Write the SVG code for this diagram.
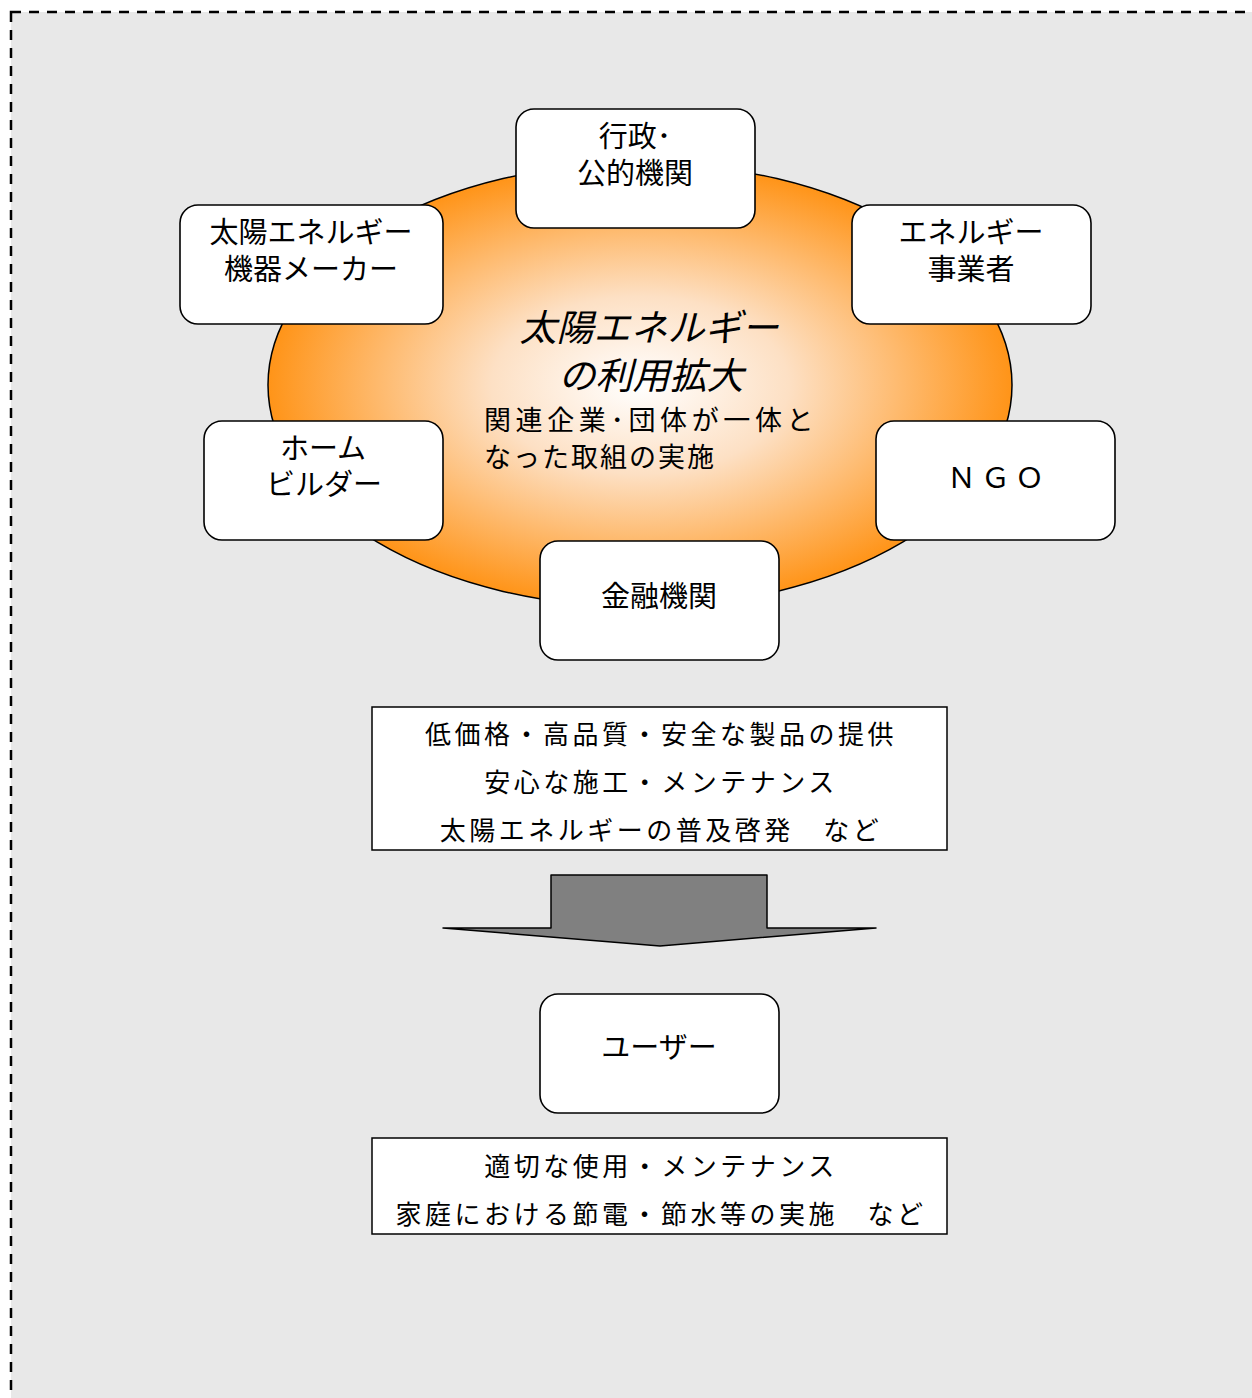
<svg xmlns="http://www.w3.org/2000/svg" width="1252" height="1398" viewBox="0 0 1252 1398">
<defs>
<radialGradient id="g" cx="0.5" cy="0.5" r="0.5">
<stop offset="0" stop-color="#ffffff"/>
<stop offset="0.4" stop-color="#fde0c4"/>
<stop offset="1" stop-color="#ff9418"/>
</radialGradient>
<style>
.box{fill:#ffffff;stroke:#000;stroke-width:1.6}
.t{font-family:"Liberation Serif","Noto Sans CJK JP",serif;font-size:29px;fill:#000;text-anchor:middle}
.s{font-family:"Liberation Sans","Noto Sans CJK JP",sans-serif;font-size:26px;fill:#000;letter-spacing:3.5px}
.big{font-family:"Liberation Sans","Noto Sans CJK JP",sans-serif;font-size:37px;font-style:italic;font-weight:normal;fill:#000;text-anchor:middle}
</style>
</defs>
<rect x="0" y="0" width="1252" height="1398" fill="#ffffff"/>
<rect x="11" y="12" width="1260" height="1400" fill="#e8e8e8" stroke="#000" stroke-width="2.5" stroke-dasharray="10 8"/>
<g id="center">
<ellipse cx="640" cy="385" rx="372" ry="222" fill="url(#g)" stroke="#000" stroke-width="1.5"/>
<text class="big" x="649" y="341">太陽エネルギー</text>
<text class="big" x="651" y="389">の利用拡大</text>
<text class="s" x="484" y="430" style="font-size:27px;letter-spacing:4.6px">関連企業･団体が一体と</text>
<text class="s" x="484" y="467" style="font-size:27px;letter-spacing:2px">なった取組の実施</text>
</g>
<g id="gyosei">
<rect class="box" x="516" y="109" width="239" height="119" rx="18"/>
<text class="t" x="635" y="147">行政･</text>
<text class="t" x="635" y="184">公的機関</text>
</g>
<g id="maker">
<rect class="box" x="180" y="205" width="263" height="119" rx="18"/>
<text class="t" x="311" y="243">太陽エネルギー</text>
<text class="t" x="311" y="280">機器メーカー</text>
</g>
<g id="jigyosha">
<rect class="box" x="852" y="205" width="239" height="119" rx="18"/>
<text class="t" x="971" y="243">エネルギー</text>
<text class="t" x="971" y="280">事業者</text>
</g>
<g id="builder">
<rect class="box" x="204" y="421" width="239" height="119" rx="18"/>
<text class="t" x="323" y="459">ホーム</text>
<text class="t" x="324" y="495">ビルダー</text>
</g>
<g id="ngo">
<rect class="box" x="876" y="421" width="239" height="119" rx="18"/>
<text class="t" x="998" y="488" letter-spacing="5">ＮＧＯ</text>
</g>
<g id="kinyu">
<rect class="box" x="540" y="541" width="239" height="119" rx="18"/>
<text class="t" x="659" y="607">金融機関</text>
</g>
<g id="offer">
<rect x="372" y="707" width="575" height="143" fill="#fff" stroke="#000" stroke-width="1.5"/>
<text class="s" x="661" y="744" text-anchor="middle">低価格・高品質・安全な製品の提供</text>
<text class="s" x="661" y="792" text-anchor="middle">安心な施工・メンテナンス</text>
<text class="s" x="661" y="840" text-anchor="middle">太陽エネルギーの普及啓発　など</text>
</g>
<g id="connectors">
<polygon points="551,875 767,875 767,928 876,928 660,946 443,928 551,928" fill="#808080" stroke="#000" stroke-width="1.5" stroke-linejoin="round"/>
</g>
<g id="user">
<rect class="box" x="540" y="994" width="239" height="119" rx="18"/>
<text class="t" x="659" y="1058">ユーザー</text>
</g>
<g id="action">
<rect x="372" y="1138" width="575" height="96" fill="#fff" stroke="#000" stroke-width="1.5"/>
<text class="s" x="661" y="1176" text-anchor="middle">適切な使用・メンテナンス</text>
<text class="s" x="661" y="1224" text-anchor="middle">家庭における節電・節水等の実施　など</text>
</g>
</svg>
